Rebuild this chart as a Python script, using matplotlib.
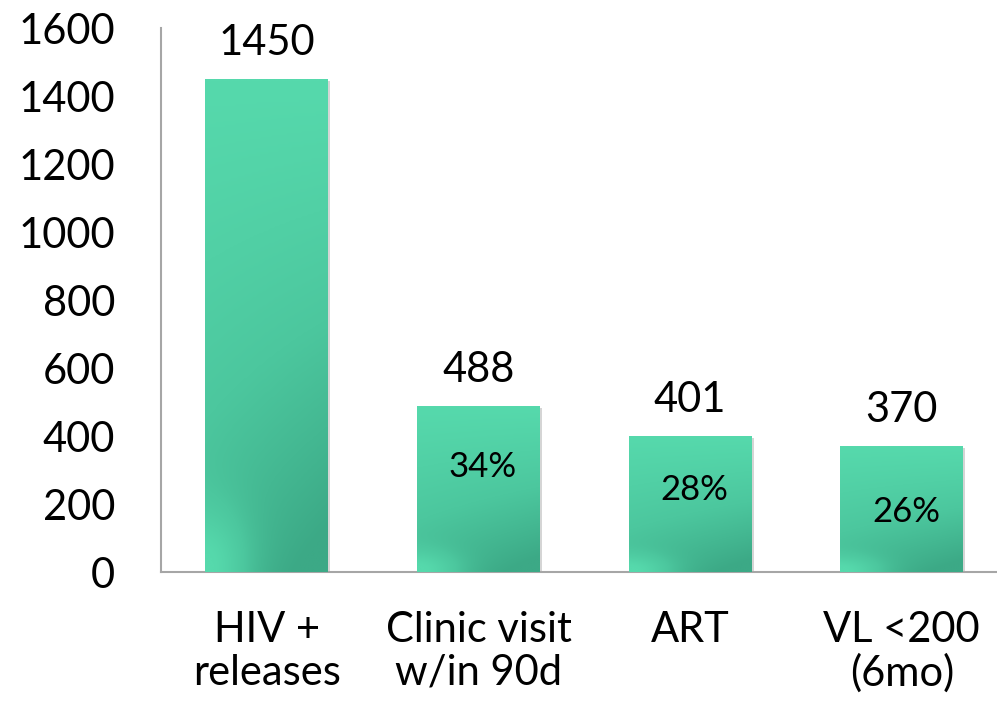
import matplotlib
matplotlib.use("Agg")
import matplotlib.pyplot as plt
import numpy as np
from matplotlib.colors import LinearSegmentedColormap
import matplotlib.patheffects as pe

categories = ["HIV +\nreleases", "Clinic visit\nw/in 90d", "ART", "VL <200\n(6mo)"]
values = [1450, 488, 401, 370]
pct_labels = ["", "34%", "28%", "26%"]
pct_y = [0, 310, 241, 176]
yticks = [0, 200, 400, 600, 800, 1000, 1200, 1400, 1600]

plt.rcParams['font.family'] = ['Lato', 'DejaVu Sans']

fig = plt.figure(figsize=(9.97, 7.03), dpi=100)
ax = fig.add_axes([0.1615, 0.1863, 0.8385, 0.7737])

x = np.arange(len(categories))
width = 0.58
bars = ax.bar(x, values, width=width, color='#52D5A8', zorder=2,
              path_effects=[pe.SimplePatchShadow(offset=(1.5, -1.5), shadow_rgbFace='#888888', alpha=0.35), pe.Normal()])

cmap = LinearSegmentedColormap.from_list('g', ['#56D9AC', '#4CC79E', '#3CA986'])
ny, nx = 120, 60
yy, xx = np.mgrid[0:1:ny*1j, 0:1:nx*1j]
for b in bars:
    x0, w, h = b.get_x(), b.get_width(), b.get_height()
    # yy=0 bottom row, yy=1 top row (origin lower)
    g = (1 - yy) ** 1.1 * (0.75 + 0.35 * xx)
    # light spot at bottom-left corner
    spot = np.exp(-((xx / 0.35) ** 2 + (yy / 0.12) ** 2))
    g = np.clip(g - 0.8 * spot, 0, 1)
    im = ax.imshow(g, cmap=cmap, vmin=0, vmax=1, origin='lower', aspect='auto',
                   extent=[x0, x0 + w, 0, h], zorder=3, interpolation='bilinear')
    im.set_clip_path(b)

for xi, v in zip(x, values):
    ax.text(xi, v + 50, str(v), ha='center', va='bottom', fontsize=30, color='black', zorder=5)

for xi, lab, py in zip(x, pct_labels, pct_y):
    if lab:
        ax.text(xi + 0.02, py, lab, ha='center', va='center', fontsize=25, color='black', zorder=5)

ax.set_xlim(-0.5, 3.45)
ax.set_ylim(0, 1600)
ax.set_yticks(yticks)
ax.set_yticklabels([str(t) for t in yticks], fontsize=30)
ax.set_xticks(x)
ax.set_xticklabels(categories, fontsize=30, linespacing=1.15)
ax.tick_params(axis='both', length=0)
ax.tick_params(axis='y', pad=33)
ax.tick_params(axis='x', pad=28)

for s in ['top', 'right']:
    ax.spines[s].set_visible(False)
for s in ['left', 'bottom']:
    ax.spines[s].set_color('#A6A6A6')
    ax.spines[s].set_linewidth(1.5)

fig.savefig('out.png', dpi=100)
